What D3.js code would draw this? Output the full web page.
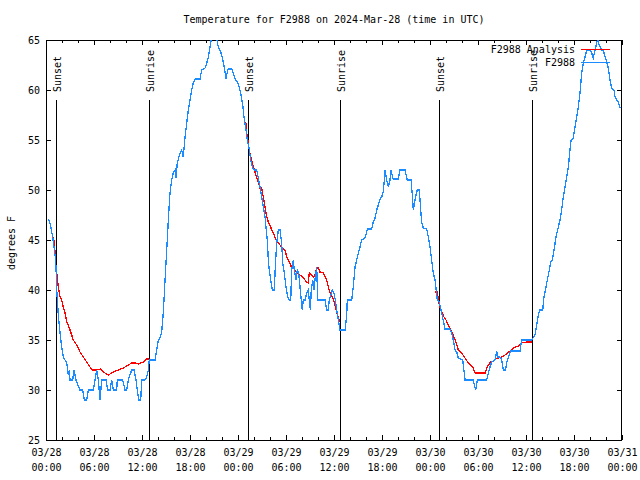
<!DOCTYPE html>
<html><head><meta charset="utf-8">
<script src="https://cdn.jsdelivr.net/npm/d3@7"></script>
<style>
body{margin:0;background:#fff}
svg text{font-family:"DejaVu Sans Mono","Liberation Mono",monospace;font-size:10px;fill:#000}
</style></head>
<body><svg id="chart" width="640" height="480"></svg>
<script>
const titleText = "Temperature for F2988 on 2024-Mar-28 (time in UTC)";
const yLabel = "degrees F";
const startTime = "2024-03-28T00:00:00Z";
const spanHours = 72;
const yTicks = [25,30,35,40,45,50,55,60,65];
const seriesNames = ["F2988 Analysis","F2988"];

// observations: hours since start, temperature (F)
const obsHours = [0.29,0.5,0.84,1.13,1.25,1.34,1.54,1.75,1.96,2.16,2.38,2.59,2.79,2.91,3.0,3.34,3.5,3.75,4.25,4.59,4.79,5.09,5.29,5.91,6.13,6.34,6.54,6.75,6.96,7.5,7.71,8.0,8.21,8.41,8.84,8.91,9.59,9.88,10.09,10.29,10.71,11.0,11.25,11.41,11.59,11.84,11.96,12.38,12.59,12.79,12.91,13.63,13.84,14.04,14.25,14.46,14.66,14.88,15.09,15.29,15.5,15.71,15.91,16.13,16.25,16.41,16.75,16.96,17.16,17.38,17.59,17.79,18.0,18.21,18.41,18.63,19.25,19.46,19.88,20.09,20.29,20.5,20.75,21.0,21.3,21.54,21.75,21.96,22.16,22.38,22.5,22.66,22.79,23.21,23.41,23.63,23.91,24.16,24.38,24.59,24.75,25.0,25.16,25.38,25.59,25.79,26.0,26.34,26.54,26.75,26.96,27.16,27.38,27.5,27.66,27.79,27.91,28.09,28.29,28.54,28.66,28.84,29.04,29.25,29.46,29.59,29.79,30.0,30.21,30.41,30.59,30.71,30.91,31.04,31.25,31.41,31.59,31.75,31.91,32.04,32.16,32.38,32.59,32.79,32.91,33.04,33.16,33.34,33.5,33.66,33.84,33.96,34.88,35.09,35.29,35.41,35.59,35.79,36.0,36.16,36.34,36.54,36.75,37.38,37.59,37.66,38.21,38.41,38.63,38.84,39.04,39.25,39.46,39.88,40.09,40.16,40.71,40.91,41.13,41.34,41.54,41.75,41.96,42.16,42.29,42.38,42.59,42.79,43.0,43.13,43.34,43.41,44.04,44.25,44.88,45.16,45.63,45.84,45.91,46.13,46.25,46.41,46.66,46.84,46.96,47.16,47.59,47.79,48.0,48.21,48.41,48.63,48.91,49.16,49.38,49.59,49.88,50.5,50.71,50.91,51.13,51.34,51.54,52.09,52.38,53.41,53.54,53.71,53.91,55.09,55.29,55.5,55.71,56.13,56.34,56.46,56.75,56.96,57.16,57.38,57.5,57.66,57.91,58.09,59.25,59.46,60.71,61.13,61.34,61.54,61.75,62.09,62.25,62.5,62.66,62.91,63.09,63.29,63.5,63.75,64.04,64.25,64.46,64.66,64.88,65.09,65.29,65.5,65.63,65.91,66.13,66.34,66.54,66.75,66.96,67.16,67.38,67.59,68.0,68.21,68.41,68.63,68.84,68.96,69.13,69.46,69.66,69.88,70.09,70.29,70.5,70.71,71.0,71.13,71.34,71.54,71.75];
const obsTemps = [47.1,46.7,45.3,43.5,42.3,40,37.5,35.7,34.3,33.3,33,32.7,31.5,32,31,31,32,31,30,30,29,29,30,30,31,32,31,29,31,31,30,30,31,30,30,31,31,30,30,31,32,32,31,30,29,29,31,31,31.3,32,33,33,34,35,35.2,35.8,37.7,41,44,47,49.7,51,51.7,52,51.2,52.7,53.7,54,53.3,55.3,56.7,58,59,60,60.7,61.1,61.1,62,62.2,62.7,63.3,64.3,65.6,66,65.3,64.3,64,63.5,62.8,61.8,61.1,61.8,62.1,62.1,61.7,61.1,60.8,60.3,59.5,58.5,57.3,56,55,54.2,53,52.3,52,52,51.2,50.3,49.3,48.3,47.3,46.3,45,43,42,41,40,40,42.3,44.7,46,46,44.7,42.7,41.7,40.3,39.3,39,39,42,43,42,41,42,41.7,40.3,39,38,39,39,39.7,40,39,38,40,41,40,41.3,42.3,39,39,38,38,39,39.5,40,39.7,39,38,37,36,36,37.5,39,39,40.3,42.3,43,43.7,44.3,45,45.2,45.8,46.1,46.1,46.8,47.2,48,48.5,49.1,49.3,49.8,51,52,51,50.3,51,52,51.2,51.1,51.1,52,52,51,51,49,48,49,49.5,50,50,48,46.8,46.2,46.1,45.3,44.3,43,41.7,41,39,38.8,38,37.2,36.1,36.1,35.7,35,34,33.8,33.2,33,31,31,30.5,30,31,31,31.7,32.3,32.8,33,33.9,33.3,33.3,33,32,32,32.3,33,33.5,33.9,33.9,35,35,35.5,36.5,37.5,38,38,39.3,40.3,41,42,42.8,43,44,45.3,46.3,47,48,49.3,50.3,51.3,52.3,54,55,55.2,56.3,57.3,58.3,59.7,61.7,62.7,63.3,64,64,63.7,63.2,64,64.7,65.2,64.5,64,64,63.3,62.8,62.2,61,60.2,60,59.3,59,58.8,58.2];

// analysis: night-time segments (null separates segments)
const anaHours = [0.84,1.04,1.25,1.41,1.54,1.75,1.96,2.16,2.38,2.59,2.79,3.0,3.21,3.41,3.84,4.25,4.66,5.09,5.5,5.84,6.34,6.84,7.16,7.79,8.41,9.04,9.66,10.29,10.71,11.25,11.54,12.16,12.59,12.91,
  null,
  24.75,25.0,25.09,25.29,25.41,25.63,25.84,26.13,26.34,26.54,26.75,26.96,27.16,27.38,27.59,27.79,28.0,28.21,28.41,28.75,29.04,29.25,29.59,29.88,30.09,30.29,30.5,30.71,30.91,31.34,31.75,32.16,32.59,32.79,32.91,33.21,33.41,33.63,33.84,34.04,34.25,34.66,34.88,35.09,35.29,35.5,35.84,36.13,36.34,36.54,36.75,
  null,
  48.63,48.91,49.04,49.25,49.46,49.75,50.0,50.29,50.59,50.91,51.13,51.34,51.54,51.96,52.38,52.79,53.09,53.41,53.63,54.88,55.09,55.29,55.59,55.91,56.25,56.54,56.96,57.38,57.79,58.21,58.63,59.04,59.46,60.09,60.71];
const anaTemps = [45.3,44.8,42.3,41.3,40.3,39.3,39,38.3,37.7,36.8,36.5,36,35.5,35,34.5,33.8,33.3,32.8,32.3,32,32,32.1,31.8,31.5,31.8,32,32.2,32.5,32.7,32.7,32.6,32.8,33.1,33.1,
  null,
  56.8,56.7,55.7,54.7,54,53.2,52.5,51.8,51.2,50.8,50.2,50.2,49.3,48.3,47.3,46.8,46.5,46,45.7,45,44.7,44.5,44.2,44,43.3,43,42.7,42.2,42.2,41.8,41.5,41.2,40.8,40.7,41.7,41.5,41.3,41.5,42.2,42.2,41.8,41.7,41.3,41,40.3,39.7,39.2,38.5,37.8,37.2,36.8,
  null,
  39.8,39.8,39,38.3,37.8,37.3,37,36.5,36,35.5,35,34.5,34,33.7,33.2,32.7,32.5,32.2,31.7,31.7,32.2,32.5,32.8,32.9,33.1,33.2,33.3,33.5,33.8,34,34.3,34.4,34.7,34.8,34.8];

const sunEventNames = ["Sunset","Sunrise","Sunset","Sunrise","Sunset","Sunrise"];
const sunEventHours = [1.25,12.88,25.25,36.75,49.13,60.75];

const obsColor = "#1a8cff", anaColor = "#ff0000";

const t0 = new Date(startTime);
const toDate = h => new Date(t0.getTime() + h*3600e3);

const margin = {left:46, right:18, top:40, bottom:40};
const W = 640, H = 480;
const svg = d3.select("#chart");
const x = d3.scaleUtc().domain([t0, toDate(spanHours)]).range([margin.left, W - margin.right]);
const y = d3.scaleLinear().domain([25,65]).range([H - margin.bottom, margin.top]);

svg.append("defs").append("clipPath").attr("id","clip").append("rect")
  .attr("x", margin.left).attr("y", margin.top)
  .attr("width", W - margin.left - margin.right).attr("height", H - margin.top - margin.bottom);

// title
svg.append("text").attr("x", 334).attr("y", 23).attr("text-anchor","middle").text(titleText);
// y label
svg.append("text").attr("transform","translate(14.5,243) rotate(-90)").attr("text-anchor","middle").text(yLabel);

// axes
const fmtD = d3.utcFormat("%m/%d"), fmtT = d3.utcFormat("%H:%M");
const gxMinor = svg.append("g").attr("transform",`translate(0,${H-margin.bottom})`)
  .call(d3.axisBottom(x).ticks(d3.utcHour.every(2)).tickSizeInner(-3).tickSizeOuter(0).tickFormat(""));
const gx = svg.append("g").attr("transform",`translate(0,${H-margin.bottom})`)
  .call(d3.axisBottom(x).ticks(d3.utcHour.every(6)).tickSizeInner(-5).tickSizeOuter(0).tickPadding(9).tickFormat(fmtD));
gx.selectAll(".tick text").each(function(d){
  const t = d3.select(this); t.text(null);
  t.append("tspan").attr("x",0).text(fmtD(d));
  t.append("tspan").attr("x",0).attr("dy","15").text(fmtT(d));
});
const gtMinor = svg.append("g").attr("transform",`translate(0,${margin.top})`)
  .call(d3.axisTop(x).ticks(d3.utcHour.every(2)).tickSizeInner(-3).tickSizeOuter(0).tickFormat(""));
const gt = svg.append("g").attr("transform",`translate(0,${margin.top})`)
  .call(d3.axisTop(x).ticks(d3.utcHour.every(6)).tickSizeInner(-5).tickSizeOuter(0).tickFormat(""));
const gy = svg.append("g").attr("transform",`translate(${margin.left},0)`)
  .call(d3.axisLeft(y).tickValues(yTicks).tickSizeInner(-5).tickSizeOuter(0).tickPadding(6));
const gyr = svg.append("g").attr("transform",`translate(${W-margin.right},0)`)
  .call(d3.axisRight(y).tickValues(yTicks).tickSizeInner(-5).tickSizeOuter(0).tickFormat(""));
[gxMinor,gx,gtMinor,gt,gy,gyr].forEach(g=>{
  g.select(".domain").remove();
  g.selectAll("line").attr("stroke","#000").attr("shape-rendering","crispEdges");
  g.selectAll("text").attr("font-family",null).attr("font-size",null);
});
gy.selectAll(".tick text").attr("text-anchor","end");

// frame
svg.append("rect").attr("x", margin.left+0.5).attr("y", margin.top+0.5)
  .attr("width", W-margin.left-margin.right-1).attr("height", H-margin.top-margin.bottom)
  .attr("fill","none").attr("stroke","#000").attr("shape-rendering","crispEdges");

// sun events
const sun = svg.append("g");
sunEventHours.forEach((h,i)=>{
  const sx = Math.round(x(toDate(h))) + 0.5;
  sun.append("line").attr("x1",sx).attr("x2",sx).attr("y1",100).attr("y2",H-margin.bottom)
    .attr("stroke","#000").attr("shape-rendering","crispEdges");
  sun.append("text").attr("transform",`translate(${sx+4.5},92) rotate(-90)`).text(sunEventNames[i]);
});

// data lines
const plot = svg.append("g").attr("clip-path","url(#clip)");
const obs = obsHours.map((h,i)=>({d:toDate(h), v:obsTemps[i]}));
const ana = anaHours.map((h,i)=>({d: h==null?null:toDate(h), v:anaTemps[i]}));
const line = d3.line().defined(p=>p.d!=null && p.v!=null).x(p=>x(p.d)).y(p=>y(p.v));
plot.append("path").datum(ana).attr("d",line).attr("fill","none").attr("stroke",anaColor).attr("stroke-width",1.3).attr("shape-rendering","crispEdges");
plot.append("path").datum(obs).attr("d",line).attr("fill","none").attr("stroke",obsColor).attr("stroke-width",1.3).attr("shape-rendering","crispEdges");

// legend
const legendColors = [anaColor, obsColor];
seriesNames.forEach((n,i)=>{
  const ly = 49.5 + i*13;
  svg.append("text").attr("x",575).attr("y",ly+3.5).attr("text-anchor","end").text(n);
  svg.append("line").attr("x1",581).attr("x2",610).attr("y1",ly).attr("y2",ly)
    .attr("stroke",legendColors[i]).attr("stroke-width",1).attr("shape-rendering","crispEdges");
});
</script></body></html>
